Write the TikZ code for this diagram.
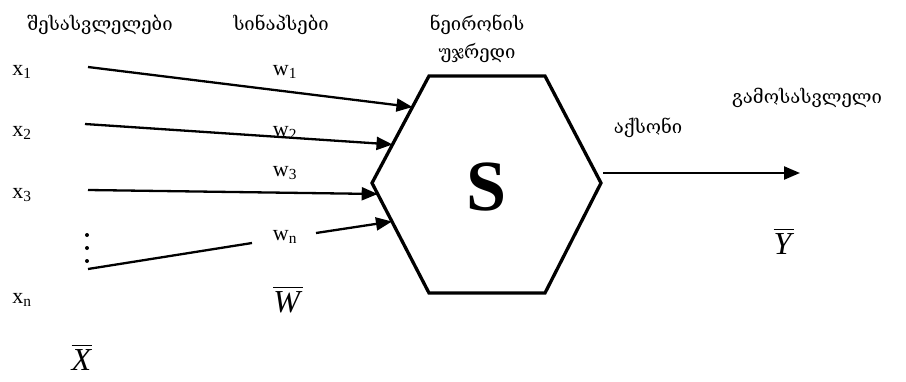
\documentclass[tikz,border=0pt]{standalone}
\usepackage{fontspec}
\setmainfont{Liberation Serif}
\newfontfamily\geofont{DejaVu Serif}
\usetikzlibrary{arrows.meta, calc}
\newcommand{\barvec}[1]{\vbox{\hrule height 1.3pt\kern 3.5pt\hbox{\textit{#1}}}}
\tikzset{
  geo/.style={font=\geofont\fontsize{18.5}{28}\selectfont, inner sep=0pt, align=center},
  idx/.style={font=\fontsize{22}{24}\selectfont, inner sep=0pt},
  vec/.style={font=\fontsize{32}{34}\selectfont, inner sep=0pt},
  syn/.style={line width=2.3pt, -{Triangle[length=16pt,width=13pt]}},
}

\begin{document}
\begin{tikzpicture}[x=1pt,y=-1pt]
\useasboundingbox (0,0) rectangle (906,381);
% cell body
\coordinate (hTL) at (429,76);
\coordinate (hTR) at (545,76);
\coordinate (hR) at (601,183);
\coordinate (hBR) at (545,293);
\coordinate (hBL) at (429,293);
\coordinate (hL) at (372,183);
\draw[line width=3.3pt, line join=miter] (hTL) -- (hTR) -- (hR) -- (hBR) -- (hBL) -- (hL) -- cycle;
\node[font=\bfseries\fontsize{72}{72}\selectfont] (soma) at (487,187) {S};
% headings
\node[geo] (inputs) at (100,25) {შესასვლელები};
\node[geo] (synapses) at (281,25) {სინაპსები};
\node[geo] (cell) at (477,39) {ნეირონის\\უჯრედი};
\node[geo] (axon) at (648,128) {აქსონი};
\node[geo] (output) at (807,98) {გამოსასვლელი};
% inputs and weights
\node[idx] (x1) at (22,72) {x\textsubscript{1}};
\node[idx] (x2) at (22,133) {x\textsubscript{2}};
\node[idx] (x3) at (22,195) {x\textsubscript{3}};
\node[idx] (xn) at (22,300) {x\textsubscript{n}};
\node[idx] (w1) at (285,72) {w\textsubscript{1}};
\node[idx] (w2) at (285,133) {w\textsubscript{2}};
\node[idx] (w3) at (285,173) {w\textsubscript{3}};
\node[idx] (wn) at (285,237) {w\textsubscript{n}};
\foreach \y in {235,248,261} {
    \fill (87,\y) circle (2pt);
}
\node[vec] (Xvec) at (82,358) {\barvec{X}};
\node[vec] (Wvec) at (288,300) {\barvec{W}};
\node[vec] (Yvec) at (784,242) {\barvec{Y}};
% synapse lines
\coordinate (in1) at (88,67);
\coordinate (in2) at (85,124);
\coordinate (in3) at (88,190);
\coordinate (inN) at (88,269);
\coordinate (cutL) at (252,243);
\coordinate (cutR) at (316,233);
\coordinate (t1) at ($(hTL)!0.29!(hL)$);
\coordinate (t2) at ($(hTL)!0.64!(hL)$);
\coordinate (t3) at ($(hL)!0.1!(hBL)$);
\coordinate (t4) at ($(hL)!0.35!(hBL)$);
\draw[syn] (in1) -- (t1);
\draw[syn] (in2) -- (t2);
\draw[syn] (in3) -- (t3);
\draw[line width=2.3pt] (inN) -- (cutL);
\draw[syn] (cutR) -- (t4);
% axon
\coordinate (axStart) at (603,173);
\coordinate (axEnd) at (800,173);
\draw[syn] (axStart) -- (axEnd);
\end{tikzpicture}
\end{document}
